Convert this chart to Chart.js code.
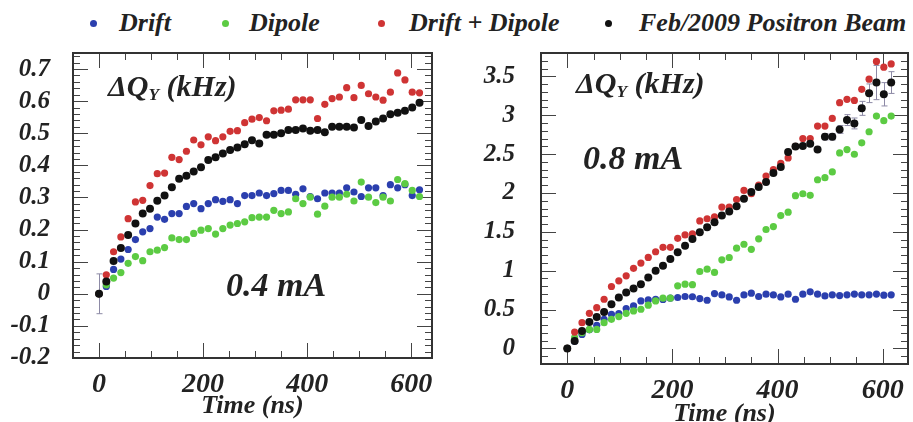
<!DOCTYPE html>
<html>
<head>
<meta charset="utf-8">
<script src="https://cdn.jsdelivr.net/npm/chart.js@4.4.1/dist/chart.umd.min.js"></script>
<style>
  html, body { margin: 0; padding: 0; background: #fff; overflow: hidden; width: 913px; height: 422px; }
  .panel { position: absolute; top: 0; }
  .lg { position: absolute; top: 10px; font: italic bold 26px "Liberation Serif", serif; color: #222;
        line-height: 26px; white-space: nowrap; }
  .dot { position: absolute; top: 20px; width: 7px; height: 7px; border-radius: 50%; }
  .note { position: absolute; font: italic bold 30px "Liberation Serif", serif; color: #222; white-space: nowrap; line-height: 36px; }
  .note sub { font-size: 58%; vertical-align: -0.25em; }
  .big { font-size: 34px; line-height: 40px; }
</style>
</head>
<body>

<!-- legend -->
<div class="dot" style="left:90px;background:#2b3fae"></div><div class="lg" style="left:119px">Drift</div>
<div class="dot" style="left:222px;background:#5ccb43"></div><div class="lg" style="left:249px">Dipole</div>
<div class="dot" style="left:378px;background:#cf3434"></div><div class="lg" style="left:409px">Drift + Dipole</div>
<div class="dot" style="left:605px;background:#111"></div><div class="lg" style="left:639px">Feb/2009 Positron Beam</div>

<div class="panel" style="left:0"><canvas id="lowChart" width="456" height="422"></canvas></div>
<div class="panel" style="left:456px"><canvas id="highChart" width="457" height="440"></canvas></div>

<!-- texts inside the frames -->
<div class="note" style="left:108px;top:68px">ΔQ<sub>Y</sub> (kHz)</div>
<div class="note big" style="left:226px;top:265px">0.4 mA</div>
<div class="note" style="left:576px;top:65px">ΔQ<sub>Y</sub> (kHz)</div>
<div class="note big" style="left:583px;top:138px">0.8 mA</div>

<script>
// time of each bunch in the train (ns)
const times = [0, 14, 28, 42, 56, 70, 84, 98, 112, 126, 140, 154, 168, 182, 196, 210, 224, 238, 252, 266,
  280, 294, 308, 322, 336, 350, 364, 378, 392, 406, 420, 434, 448, 462, 476, 490, 504, 518, 532, 546,
  560, 574, 588, 602, 616];

// 0.4 mA (kHz)
const driftLow = [0, 0.023, 0.076, 0.108, 0.138, 0.169, 0.193, 0.203, 0.239, 0.232, 0.25, 0.25, 0.272, 0.281, 0.265,
  0.281, 0.293, 0.288, 0.293, 0.281, 0.306, 0.306, 0.314, 0.306, 0.312, 0.322, 0.322, 0.31, 0.327, 0.303,
  0.296, 0.314, 0.314, 0.314, 0.33, 0.317, 0.303, 0.33, 0.33, 0.306, 0.34, 0.33, 0.34, 0.306, 0.324];
const dipoleLow = [0, 0.028, 0.049, 0.066, 0.095, 0.116, 0.103, 0.131, 0.136, 0.144, 0.174, 0.169, 0.169, 0.188, 0.198,
  0.203, 0.186, 0.203, 0.214, 0.219, 0.224, 0.237, 0.239, 0.239, 0.26, 0.25, 0.255, 0.296, 0.281, 0.301,
  0.248, 0.273, 0.301, 0.301, 0.31, 0.289, 0.348, 0.301, 0.284, 0.301, 0.289, 0.356, 0.343, 0.322, 0.303];
const bothLow = [0, 0.059, 0.131, 0.177, 0.234, 0.286, 0.291, 0.337, 0.374, 0.376, 0.425, 0.418, 0.444, 0.479, 0.464,
  0.489, 0.477, 0.489, 0.506, 0.508, 0.533, 0.544, 0.549, 0.539, 0.57, 0.572, 0.575, 0.604, 0.604, 0.604,
  0.546, 0.59, 0.608, 0.613, 0.642, 0.611, 0.649, 0.623, 0.613, 0.603, 0.628, 0.688, 0.666, 0.628, 0.626];
const beamLow = [0, 0.038, 0.102, 0.143, 0.183, 0.219, 0.25, 0.265, 0.29, 0.306, 0.332, 0.358, 0.368, 0.381, 0.394,
  0.417, 0.425, 0.437, 0.448, 0.456, 0.466, 0.478, 0.468, 0.495, 0.495, 0.5, 0.51, 0.51, 0.515, 0.508,
  0.51, 0.503, 0.52, 0.52, 0.52, 0.518, 0.541, 0.523, 0.537, 0.546, 0.559, 0.564, 0.57, 0.58, 0.595];
const beamLowErr = [0.062, 0, 0, 0, 0, 0, 0, 0, 0, 0, 0, 0, 0, 0, 0, 0, 0, 0, 0, 0, 0, 0, 0, 0, 0,
  0, 0, 0, 0, 0, 0, 0, 0, 0, 0, 0, 0, 0, 0, 0, 0, 0, 0, 0, 0];

// 0.8 mA (kHz)
const driftHigh = [0, 0.094, 0.181, 0.24, 0.297, 0.375, 0.439, 0.448, 0.513, 0.547, 0.611, 0.624, 0.63, 0.63, 0.646,
  0.655, 0.668, 0.665, 0.642, 0.62, 0.706, 0.689, 0.663, 0.62, 0.689, 0.711, 0.668, 0.698, 0.689, 0.663,
  0.698, 0.633, 0.698, 0.728, 0.698, 0.676, 0.69, 0.68, 0.69, 0.7, 0.69, 0.69, 0.7, 0.685, 0.69];
const dipoleHigh = [0, 0.138, 0.202, 0.245, 0.245, 0.332, 0.375, 0.41, 0.452, 0.482, 0.504, 0.556, 0.611, 0.646, 0.646,
  0.805, 0.827, 0.82, 0.99, 1.02, 0.978, 1.14, 1.17, 1.29, 1.34, 1.275, 1.41, 1.53, 1.567, 1.709,
  1.753, 1.965, 1.99, 1.97, 2.17, 2.196, 2.27, 2.515, 2.558, 2.498, 2.645, 2.787, 2.989, 2.929, 2.989];
const bothHigh = [0, 0.211, 0.332, 0.452, 0.525, 0.633, 0.797, 0.87, 0.934, 1.03, 1.098, 1.171, 1.244, 1.301, 1.301,
  1.417, 1.46, 1.473, 1.64, 1.668, 1.692, 1.818, 1.818, 1.916, 2.033, 1.99, 2.1, 2.218, 2.3, 2.38,
  2.45, 2.6, 2.7, 2.7, 2.86, 2.86, 2.959, 3.161, 3.204, 3.19, 3.333, 3.463, 3.691, 3.618, 3.66];
const beamHigh = [0, 0.095, 0.224, 0.34, 0.405, 0.469, 0.568, 0.655, 0.72, 0.771, 0.827, 0.913, 0.999, 1.063, 1.15,
  1.236, 1.322, 1.408, 1.495, 1.559, 1.624, 1.709, 1.761, 1.83, 1.925, 2.012, 2.076, 2.141, 2.257, 2.335,
  2.528, 2.597, 2.604, 2.634, 2.56, 2.722, 2.722, 2.817, 2.937, 2.894, 3.088, 3.282, 3.42, 3.269, 3.42];
const beamHighErr = [0, 0, 0, 0, 0, 0, 0, 0, 0, 0, 0, 0, 0, 0, 0, 0, 0, 0, 0, 0, 0, 0, 0, 0, 0,
  0, 0, 0, 0, 0, 0, 0, 0, 0, 0, 0.04, 0.04, 0.05, 0.07, 0.07, 0.09, 0.12, 0.22, 0.15, 0.14];

// tick labels
const xTicks = [0, 200, 400, 600];
const yTicksLow = [-0.2, -0.1, 0, 0.1, 0.2, 0.3, 0.4, 0.5, 0.6, 0.7];
const yTicksHigh = [0, 0.5, 1, 1.5, 2, 2.5, 3, 3.5];

const serif = '"Liberation Serif", "Times New Roman", serif';
const ink = '#222';

// ROOT style frame: box with tick marks pointing inside on all four sides
const frameTicks = {
  id: 'frameTicks',
  beforeDatasetsDraw(chart, args, o) {
    const { ctx, chartArea: a, scales: { x, y } } = chart;
    ctx.save();
    ctx.strokeStyle = '#444';
    ctx.lineWidth = 1;
    ctx.beginPath();
    const rx = Math.round(o.xMajor / o.xMinor);
    for (let k = Math.ceil(x.min / o.xMinor - 1e-6); k * o.xMinor <= x.max + 1e-6; k++) {
      const px = Math.round(x.getPixelForValue(k * o.xMinor)) + 0.5;
      const len = k % rx === 0 ? 15 : 7;
      ctx.moveTo(px, a.bottom); ctx.lineTo(px, a.bottom - len);
      ctx.moveTo(px, a.top); ctx.lineTo(px, a.top + len);
    }
    const ry = Math.round(o.yMajor / o.yMinor);
    for (let k = Math.ceil(y.min / o.yMinor - 1e-6); k * o.yMinor <= y.max + 1e-6; k++) {
      const py = Math.round(y.getPixelForValue(k * o.yMinor)) + 0.5;
      const len = k % ry === 0 ? 15 : 7;
      ctx.moveTo(a.left, py); ctx.lineTo(a.left + len, py);
      ctx.moveTo(a.right, py); ctx.lineTo(a.right - len, py);
    }
    ctx.stroke();
    ctx.lineWidth = 2;
    ctx.strokeStyle = '#333';
    ctx.strokeRect(a.left, a.top, a.right - a.left, a.bottom - a.top);
    ctx.restore();
  }
};

// vertical error bars on the measured points
const errorBars = {
  id: 'errorBars',
  beforeDatasetsDraw(chart, args, o) {
    const { ctx, scales: { x, y } } = chart;
    ctx.save();
    ctx.strokeStyle = '#8d8aa6';
    ctx.lineWidth = 1;
    ctx.beginPath();
    o.err.forEach((e, i) => {
      if (!e) return;
      const px = Math.round(x.getPixelForValue(o.t[i])) + 0.5;
      const y1 = y.getPixelForValue(o.v[i] - e);
      const y2 = y.getPixelForValue(o.v[i] + e);
      ctx.moveTo(px, y1); ctx.lineTo(px, y2);
      ctx.moveTo(px - 3, y1); ctx.lineTo(px + 3, y1);
      ctx.moveTo(px - 3, y2); ctx.lineTo(px + 3, y2);
    });
    ctx.stroke();
    ctx.restore();
  }
};

function points(vals) {
  return times.map((t, i) => ({ x: t, y: vals[i] }));
}

function series(drift, dipole, both, beam) {
  return [
    { label: 'Feb/2009 Positron Beam', data: points(beam), backgroundColor: '#111', pointRadius: 4, order: 0 },
    { label: 'Drift + Dipole', data: points(both), backgroundColor: '#cf3434', pointRadius: 3.6, order: 1 },
    { label: 'Dipole', data: points(dipole), backgroundColor: '#5ccb43', pointRadius: 3.6, order: 2 },
    { label: 'Drift', data: points(drift), backgroundColor: '#2b3fae', pointRadius: 3.6, order: 3 }
  ].map(d => Object.assign(d, { borderWidth: 0, pointHoverRadius: 4 }));
}

function options(cfg) {
  return {
    responsive: false,
    animation: false,
    events: [],
    layout: { padding: { top: 53, right: cfg.padRight, bottom: cfg.padBottom, left: 0 } },
    plugins: {
      legend: { display: false },
      tooltip: { enabled: false },
      frameTicks: cfg.frame,
      errorBars: cfg.err
    },
    scales: {
      x: {
        type: 'linear',
        min: -50,
        max: cfg.xMax,
        afterBuildTicks: s => { s.ticks = xTicks.map(v => ({ value: v })); },
        afterFit: s => { s.height = cfg.xHeight; },
        grid: { display: false },
        border: { display: false },
        ticks: { autoSkip: false, maxRotation: 0, padding: 2, color: ink,
                 font: { family: serif, size: 28, weight: 'bold', style: 'italic' } },
        title: { display: true, text: 'Time (ns)', color: ink, padding: 0,
                 font: { family: serif, size: 26, weight: 'bold', style: 'italic' } }
      },
      y: {
        type: 'linear',
        min: cfg.yMin,
        max: cfg.yMax,
        afterBuildTicks: s => { s.ticks = cfg.yTicks.map(v => ({ value: v })); },
        afterFit: s => { s.width = cfg.yWidth; },
        grid: { display: false },
        border: { display: false },
        ticks: { autoSkip: false, padding: cfg.yPad, color: ink,
                 callback: v => String(Math.round(v * 10) / 10),
                 font: { family: serif, size: 25, weight: 'bold', style: 'italic' } }
      }
    }
  };
}

new Chart(document.getElementById('lowChart').getContext('2d'), {
  type: 'scatter',
  data: { datasets: series(driftLow, dipoleLow, bothLow, beamLow) },
  options: options({
    padRight: 24, padBottom: 0, xMax: 640, xHeight: 64,
    yMin: -0.2, yMax: 0.75, yTicks: yTicksLow, yWidth: 73, yPad: 15,
    frame: { xMinor: 50, xMajor: 200, yMinor: 0.02, yMajor: 0.1 },
    err: { t: times, v: beamLow, err: beamLowErr }
  }),
  plugins: [frameTicks, errorBars]
});

new Chart(document.getElementById('highChart').getContext('2d'), {
  type: 'scatter',
  data: { datasets: series(driftHigh, dipoleHigh, bothHigh, beamHigh) },
  options: options({
    padRight: 5, padBottom: 10, xMax: 648, xHeight: 66,
    yMin: -0.2, yMax: 3.8, yTicks: yTicksHigh, yWidth: 85, yPad: 18,
    frame: { xMinor: 50, xMajor: 200, yMinor: 0.1, yMajor: 0.5 },
    err: { t: times, v: beamHigh, err: beamHighErr }
  }),
  plugins: [frameTicks, errorBars]
});
</script>
</body>
</html>
